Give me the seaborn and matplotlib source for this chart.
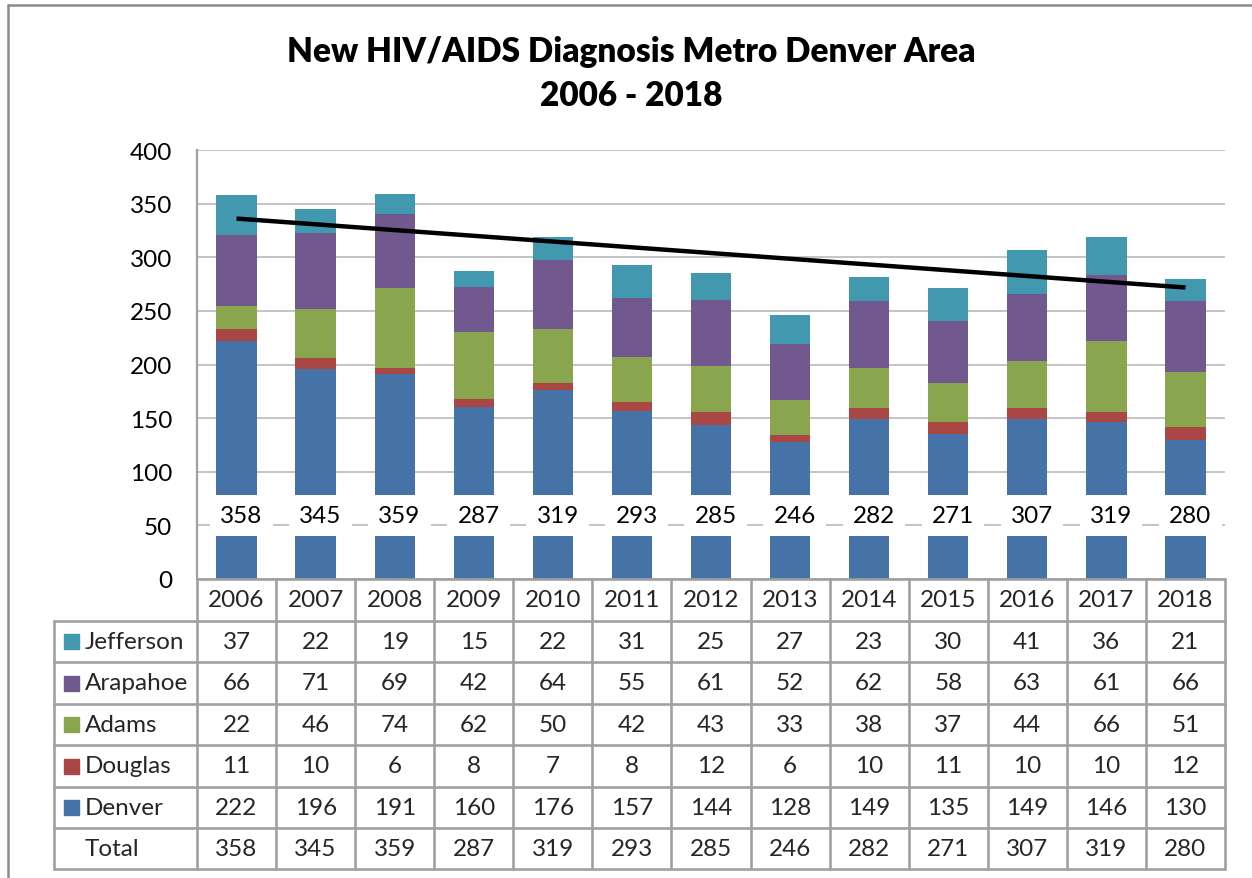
import numpy as np
import matplotlib
matplotlib.use("Agg")
import matplotlib.pyplot as plt
import matplotlib.transforms as mtransforms
from matplotlib.patches import Rectangle
import seaborn as sns
import pandas as pd

years = ["2006", "2007", "2008", "2009", "2010", "2011", "2012", "2013",
         "2014", "2015", "2016", "2017", "2018"]
denver = [222, 196, 191, 160, 176, 157, 144, 128, 149, 135, 149, 146, 130]
douglas = [11, 10, 6, 8, 7, 8, 12, 6, 10, 11, 10, 10, 12]
adams = [22, 46, 74, 62, 50, 42, 43, 33, 38, 37, 44, 66, 51]
arapahoe = [66, 71, 69, 42, 64, 55, 61, 52, 62, 58, 63, 61, 66]
jefferson = [37, 22, 19, 15, 22, 31, 25, 27, 23, 30, 41, 36, 21]
totals = [358, 345, 359, 287, 319, 293, 285, 246, 282, 271, 307, 319, 280]

series_names = ["Denver", "Douglas", "Adams", "Arapahoe", "Jefferson"]
series_vals = [denver, douglas, adams, arapahoe, jefferson]
colors = ["#4572A7", "#AA4643", "#89A54E", "#71588F", "#4198AF"]

sns.set_theme(style="white")
plt.rcParams['font.family'] = ['Lato', 'DejaVu Sans']

W, H = 1252, 879
FS = 17.5
fig = plt.figure(figsize=(W / 100, H / 100), dpi=100)
fig.patch.set_facecolor("white")

def fx(px):
    return px / W

def fy(py):
    return 1 - py / H

ax = fig.add_axes([fx(197), fy(580), fx(1225) - fx(197), fy(151) - fy(580)])

# stacked bars drawn as cumulative layers (top first)
cum = np.cumsum(np.array(series_vals), axis=0)
for i in range(len(series_names) - 1, -1, -1):
    df = pd.DataFrame({"year": years, "value": cum[i]})
    sns.barplot(data=df, x="year", y="value", color=colors[i], saturation=1,
                width=0.51, ax=ax, zorder=2, linewidth=0)

# linear trendline of totals
xs = np.arange(len(years))
coef = np.polyfit(xs, totals, 1)
ax.plot(xs, np.polyval(coef, xs), color="black", lw=3.2, zorder=4,
        solid_capstyle="butt")

# total labels
for i, t in enumerate(totals):
    ax.text(i + 0.06, 59, str(t), ha="center", va="center", fontsize=FS,
            color="black", zorder=5,
            bbox=dict(boxstyle="square,pad=0.42", fc="white", ec="none"))

ax.set_ylim(0, 400)
ax.set_xlim(-0.5, len(years) - 0.5)
ax.set_yticks(range(0, 401, 50))
ax.yaxis.grid(True, color="#BFBFBF", lw=1.3, zorder=0)
ax.set_axisbelow(True)
ax.tick_params(axis="y", labelsize=FS, length=0, pad=18, labelcolor="black")
ax.tick_params(axis="x", length=0, labelbottom=False)
ax.set_xlabel("")
ax.set_ylabel("")
for s in ["top", "right", "bottom"]:
    ax.spines[s].set_visible(False)
ax.spines["left"].set_color("#A0A0A0")
ax.spines["left"].set_linewidth(1.6)
ax.patch.set_alpha(0)

# overlay in pixel coordinates for title, table and border
ov = fig.add_axes([0, 0, 1, 1], zorder=10)
ov.set_xlim(0, W)
ov.set_ylim(H, 0)
ov.axis("off")
ov.patch.set_alpha(0)

# outer border
ov.plot([8, 8], [6, H + 5], color="#8C8C8C", lw=1.8, clip_on=False)
ov.plot([8, W + 5], [6, 6], color="#8C8C8C", lw=1.8, clip_on=False)

ov.text(631, 52, "New HIV/AIDS Diagnosis Metro Denver Area", ha="center",
        va="center", fontsize=24, fontweight="heavy", color="black")
ov.text(631, 96, "2006 - 2018", ha="center", va="center", fontsize=24,
        fontweight="heavy", color="black")

# table (x from bar axis data coords, y in pixels)
bt = mtransforms.blended_transform_factory(ax.transData, ov.transData)
lc = "#A0A0A0"
lw = 1.9
row_tops = [580, 622, 663, 705, 746, 788, 829, 870]
n = len(years)
ov.plot([-0.5, n - 0.5], [580, 580], color=lc, lw=lw, transform=bt)
for k in range(n + 1):
    ov.plot([k - 0.5, k - 0.5], [580, 870], color=lc, lw=lw, transform=bt)
for i, yv in enumerate(years):
    ov.text(i, 601, yv, ha="center", va="center", fontsize=FS, transform=bt)
ov.plot([54, 54], [622, 870], color=lc, lw=lw)
for ry in row_tops[1:]:
    ov.plot([54, 197], [ry, ry], color=lc, lw=lw)
    ov.plot([-0.5, n - 0.5], [ry, ry], color=lc, lw=lw, transform=bt)

rows = [("Jefferson", jefferson, colors[4]), ("Arapahoe", arapahoe, colors[3]),
        ("Adams", adams, colors[2]), ("Douglas", douglas, colors[1]),
        ("Denver", denver, colors[0]), ("Total", totals, None)]
for r, (name, vals, col) in enumerate(rows):
    yc = (row_tops[r + 1] + row_tops[r + 2]) / 2
    if col is not None:
        ov.add_patch(Rectangle((64, yc - 7.5), 15, 15, color=col))
    ov.text(85, yc, name, ha="left", va="center", fontsize=FS)
    for i, v in enumerate(vals):
        ov.text(i, yc, str(v), ha="center", va="center", fontsize=FS,
                transform=bt)

fig.savefig("out.png", dpi=100, facecolor="white")
